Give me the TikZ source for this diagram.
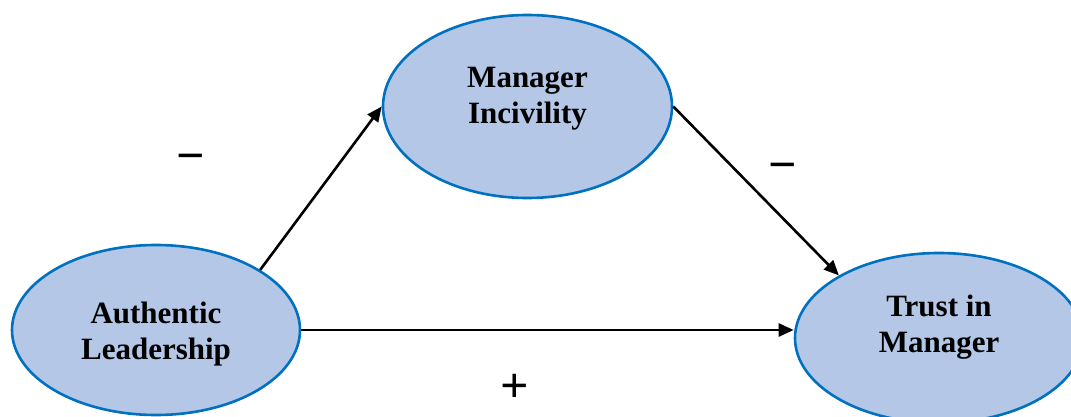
\documentclass[tikz,border=0pt]{standalone}
\usepackage{fontspec}
\setmainfont{Liberation Serif}
\usetikzlibrary{shapes.geometric,arrows.meta}
\definecolor{ellfill}{RGB}{180,199,231}
\definecolor{elldraw}{RGB}{0,112,192}
\tikzset{
  construct/.style={ellipse, draw=elldraw, fill=ellfill, line width=2.6pt, inner sep=0pt},
  lbl/.style={font=\fontsize{31}{36}\selectfont\bfseries, align=center, inner sep=0pt, anchor=center},
  sign/.style={font=\fontsize{50}{50}\selectfont\bfseries, inner sep=0pt, anchor=base},
  conn/.style={line width=2.6pt, -{Triangle[length=15pt,width=13pt]}}
}
\begin{document}
\begin{tikzpicture}[x=1pt,y=1pt]
\useasboundingbox (0,0) rectangle (1071,416);
\node[construct, minimum width=288pt, minimum height=170pt] (al) at (156,86) {};
\node[construct, minimum width=289pt, minimum height=183pt] (mi) at (527.5,309.5) {};
\node[construct, minimum width=288pt, minimum height=170pt] (tm) at (939,78) {};
\node[lbl] (alt) at (156,82) {Authentic\\Leadership};
\node[lbl] (mit) at (527.5,317.5) {Manager\\Incivility};
\node[lbl] (tmt) at (939,89) {Trust in\\Manager};
\draw[conn] (al.30) -- (mi.west);
\draw[conn] (mi.east) -- (tm.148);
\draw[conn] (al.east) -- (al.east -| tm.west);
\node[sign] (m1) at (190.5,244) {−};
\node[sign] (m2) at (782.5,235) {−};
\node[sign] (p1) at (515,14) {+};
\end{tikzpicture}
\end{document}
